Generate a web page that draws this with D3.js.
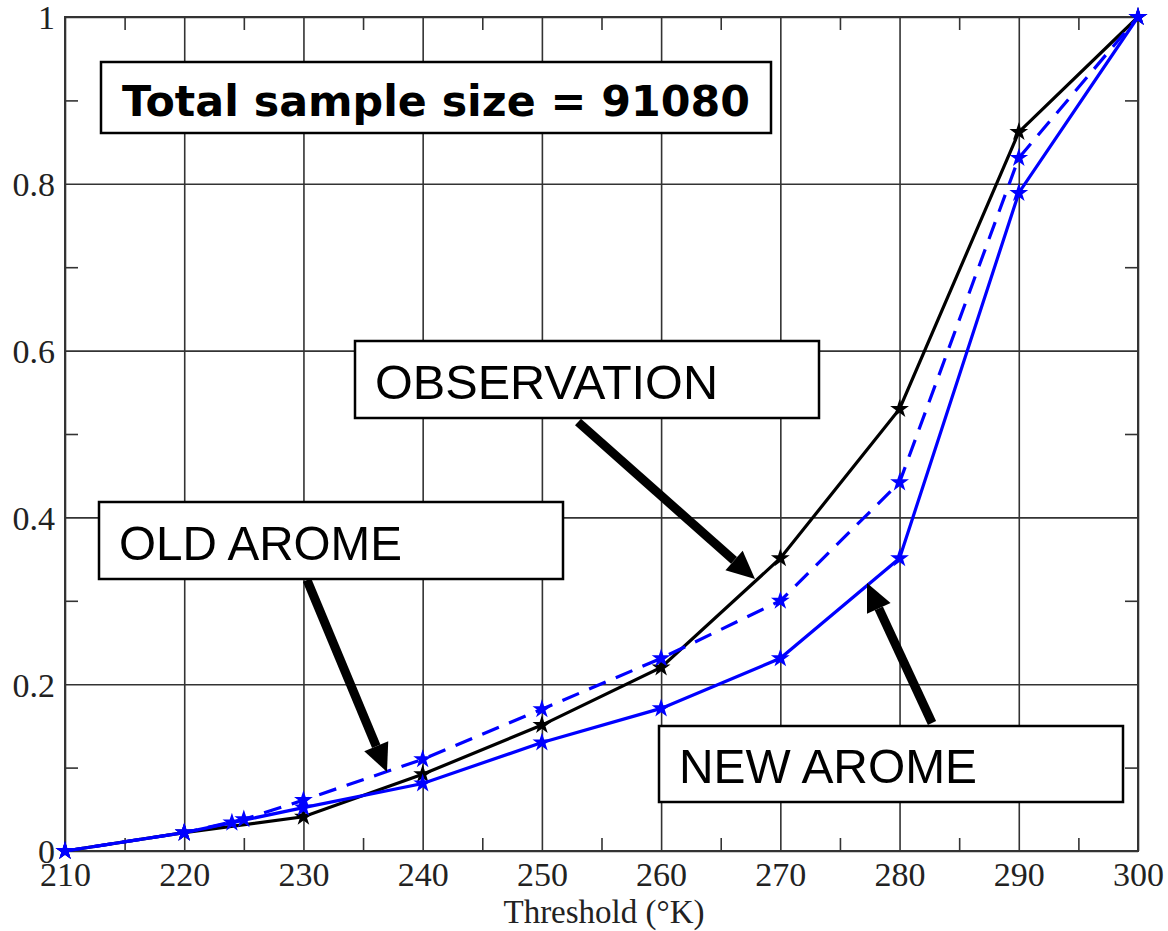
<!DOCTYPE html>
<html>
<head>
<meta charset="utf-8">
<script src="https://cdn.jsdelivr.net/npm/d3@7"></script>
<style>
  body { margin: 0; background: #fff; }
  svg { display: block; }
</style>
</head>
<body>
<svg width="1168" height="931"></svg>
<script>
const svg = d3.select('svg');

// data
const thresholds = [210, 220, 230, 240, 250, 260, 270, 280, 290, 300];
const observation = [0, 0.022, 0.041, 0.092, 0.151, 0.22, 0.351, 0.53, 0.862, 1];
const oldAromeX = [210, 220, 225, 230, 240, 250, 260, 270, 280, 290, 300];
const oldArome = [0, 0.022, 0.038, 0.061, 0.11, 0.17, 0.231, 0.30, 0.442, 0.831, 1];
const newAromeX = [210, 220, 224, 230, 240, 250, 260, 270, 280, 290, 300];
const newArome = [0, 0.022, 0.034, 0.052, 0.081, 0.13, 0.171, 0.231, 0.351, 0.789, 1];

const xTicks = [210, 220, 230, 240, 250, 260, 270, 280, 290, 300];
const yTicks = [0, 0.2, 0.4, 0.6, 0.8, 1];
const xMinor = [215, 225, 235, 245, 255, 265, 275, 285, 295];
const yMinor = [0.1, 0.3, 0.5, 0.7, 0.9];

const margin = { top: 17, right: 30, bottom: 80, left: 65 };
const innerWidth = 1138 - margin.left;
const innerHeight = 851 - margin.top;

const xScale = d3.scaleLinear().domain([210, 300]).range([0, innerWidth]);
const yScale = d3.scaleLinear().domain([0, 1]).range([innerHeight, 0]);

const g = svg.append('g')
  .attr('transform', `translate(${margin.left},${margin.top})`);

const gridColor = '#333';
const tickFont = 'Liberation Serif, Times New Roman, serif';

// grid + tick labels
const xAxis = g.append('g')
  .attr('transform', `translate(0,${innerHeight})`)
  .call(d3.axisBottom(xScale).tickValues(xTicks).tickSize(-innerHeight).tickPadding(11).tickFormat(d3.format('d')));
const yAxis = g.append('g')
  .call(d3.axisLeft(yScale).tickValues(yTicks).tickSize(-innerWidth).tickPadding(10).tickFormat(d3.format('~g')));

[xAxis, yAxis].forEach(a => {
  a.select('.domain').remove();
  a.selectAll('.tick line').attr('stroke', gridColor).attr('stroke-width', 1.6);
  a.selectAll('.tick text')
    .attr('font-family', tickFont)
    .attr('font-size', 34)
    .attr('fill', '#222');
});
yAxis.selectAll('.tick text').attr('dy', '0.35em');

// minor ticks, inside on all four sides
const minorLen = 13;
const minor = g.append('g');
minor.append('g').attr('transform', `translate(0,${innerHeight})`)
  .call(d3.axisBottom(xScale).tickValues(xMinor).tickSize(-minorLen).tickFormat(''));
minor.append('g')
  .call(d3.axisTop(xScale).tickValues(xMinor).tickSize(-minorLen).tickFormat(''));
minor.append('g')
  .call(d3.axisLeft(yScale).tickValues(yMinor).tickSize(-minorLen).tickFormat(''));
minor.append('g').attr('transform', `translate(${innerWidth},0)`)
  .call(d3.axisRight(yScale).tickValues(yMinor).tickSize(-minorLen).tickFormat(''));
minor.selectAll('.domain').remove();
minor.selectAll('.tick line').attr('stroke', gridColor).attr('stroke-width', 1.6);

// frame
g.append('rect')
  .attr('width', innerWidth)
  .attr('height', innerHeight)
  .attr('fill', 'none')
  .attr('stroke', gridColor)
  .attr('stroke-width', 2);

// axis title
svg.append('text')
  .attr('x', 604)
  .attr('y', 923)
  .attr('text-anchor', 'middle')
  .attr('font-family', tickFont)
  .attr('font-size', 33)
  .attr('fill', '#222')
  .text('Threshold (°K)');

// series
const series = [
  { xs: thresholds, ys: observation, color: '#000', dash: null },
  { xs: oldAromeX, ys: oldArome, color: '#0000ff', dash: '18,11' },
  { xs: newAromeX, ys: newArome, color: '#0000ff', dash: null }
];

const line = d3.line()
  .x(d => xScale(d[0]))
  .y(d => yScale(d[1]));

const star = d3.symbol().type(d3.symbolStar).size(110);

series.forEach(s => {
  const pts = s.xs.map((x, i) => [x, s.ys[i]]);
  g.append('path')
    .datum(pts)
    .attr('fill', 'none')
    .attr('stroke', s.color)
    .attr('stroke-width', 3.2)
    .attr('stroke-dasharray', s.dash)
    .attr('d', line);
  g.selectAll(null).data(pts)
    .enter().append('path')
      .attr('transform', d => `translate(${xScale(d[0])},${yScale(d[1])})`)
      .attr('d', star)
      .attr('fill', s.color);
});

// annotation boxes
const boxes = [
  { x: 101, y: 62, w: 670, h: 71, text: 'Total sample size = 91080', tx: 122, ty: 116, len: 628, font: 'DejaVu Sans, Verdana, sans-serif', size: 43, weight: 'bold' },
  { x: 355, y: 341, w: 464, h: 77, text: 'OBSERVATION', tx: 375, ty: 399, len: 343, font: 'Liberation Sans, Arial, sans-serif', size: 49, weight: 'normal' },
  { x: 99, y: 502, w: 464, h: 77, text: 'OLD AROME', tx: 119, ty: 560, len: 283, font: 'Liberation Sans, Arial, sans-serif', size: 49, weight: 'normal' },
  { x: 659, y: 726, w: 464, h: 76, text: 'NEW AROME', tx: 679, ty: 783, len: 298, font: 'Liberation Sans, Arial, sans-serif', size: 49, weight: 'normal' }
];

boxes.forEach(b => {
  svg.append('rect')
    .attr('x', b.x).attr('y', b.y)
    .attr('width', b.w).attr('height', b.h)
    .attr('fill', '#fff')
    .attr('stroke', '#000')
    .attr('stroke-width', 2.5);
  svg.append('text')
    .attr('x', b.tx).attr('y', b.ty)
    .attr('font-family', b.font)
    .attr('font-size', b.size)
    .attr('font-weight', b.weight)
    .attr('textLength', b.len)
    .attr('lengthAdjust', 'spacingAndGlyphs')
    .attr('fill', '#000')
    .text(b.text);
});

// arrows
const arrows = [
  { x1: 578, y1: 422, x2: 755, y2: 579 },
  { x1: 307, y1: 580, x2: 387, y2: 772 },
  { x1: 932, y1: 723, x2: 867, y2: 583 }
];

arrows.forEach(a => {
  const ang = Math.atan2(a.y2 - a.y1, a.x2 - a.x1);
  const headLen = 28, headW = 13;
  const bx = a.x2 - headLen * Math.cos(ang);
  const by = a.y2 - headLen * Math.sin(ang);
  svg.append('line')
    .attr('x1', a.x1).attr('y1', a.y1)
    .attr('x2', bx).attr('y2', by)
    .attr('stroke', '#000')
    .attr('stroke-width', 9);
  const px = -Math.sin(ang), py = Math.cos(ang);
  svg.append('path')
    .attr('d', `M${a.x2},${a.y2}L${bx + px * headW},${by + py * headW}L${bx - px * headW},${by - py * headW}Z`)
    .attr('fill', '#000');
});
</script>
</body>
</html>
